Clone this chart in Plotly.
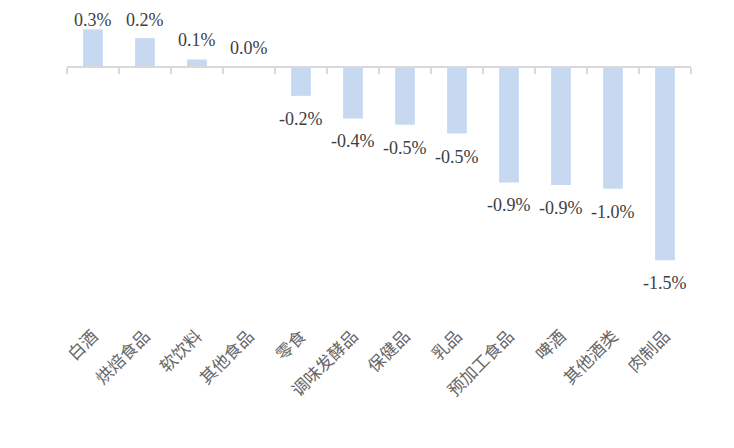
import plotly.graph_objects as go

categories = ["白酒", "烘焙食品", "软饮料", "其他食品", "零食", "调味发酵品", "保健品",
              "乳品", "预加工食品", "啤酒", "其他酒类", "肉制品"]
values = [0.30, 0.23, 0.06, 0.002, -0.23, -0.41, -0.46, -0.53, -0.92, -0.94, -0.97, -1.54]

# page body has an 8px default margin, compensate in the figure margins
px_per_unit = 125.5
plot_h = 314
zero_from_top = 59
y_top = zero_from_top / px_per_unit
y_range = [y_top - plot_h / px_per_unit, y_top]
zero_pos = (0 - y_range[0]) / (y_range[1] - y_range[0])

label_font = dict(family="Liberation Serif, Times New Roman, serif", size=18, color="#404040")
label_box_h = 25
pos_shift = 7
neg_shift = -11

fig = go.Figure()
fig.add_trace(go.Bar(
    x=categories, y=values,
    marker=dict(color="#C6D9F1", line=dict(width=0)),
    showlegend=False, hoverinfo="skip",
))
fig.add_trace(go.Scatter(
    x=categories, y=[0] * len(categories), xaxis="x2", mode="markers",
    marker=dict(opacity=0), showlegend=False, hoverinfo="skip",
))

for c, v in zip(categories, values):
    txt = f"{v:.1f}%"
    if v >= 0:
        if v * px_per_unit + pos_shift + label_box_h > zero_from_top:
            fig.add_annotation(x=c, xref="x", y=1, yref="paper", yanchor="top",
                               text=txt, showarrow=False, font=label_font)
        else:
            fig.add_annotation(x=c, y=v, xref="x", yref="y", yanchor="bottom",
                               yshift=pos_shift, text=txt, showarrow=False, font=label_font)
    else:
        fig.add_annotation(x=c, y=v, xref="x", yref="y", yanchor="top",
                           yshift=neg_shift, text=txt, showarrow=False, font=label_font)

fig.update_layout(
    width=734, height=448,
    margin=dict(l=59, r=51, t=0, b=448 - plot_h, pad=0),
    paper_bgcolor="white", plot_bgcolor="white",
    bargap=0.62,
    xaxis=dict(
        type="category", range=[-0.5, len(categories) - 0.5],
        showline=False, ticks="", showgrid=False, zeroline=False,
        tickangle=-45, automargin=False,
        tickfont=dict(family="Noto Sans CJK SC", size=17, color="#666666"),
    ),
    xaxis2=dict(
        type="category", overlaying="x", anchor="free", position=zero_pos,
        range=[-0.5, len(categories) - 0.5], automargin=False,
        showline=True, linecolor="#D9D9D9", linewidth=2,
        ticks="outside", ticklen=6, tickcolor="#D9D9D9", tickwidth=1.5,
        tickson="boundaries", showticklabels=False, showgrid=False, zeroline=False,
    ),
    yaxis=dict(range=y_range, visible=False, showgrid=False, zeroline=False,
               automargin=False),
)

fig.write_html("out.html")
